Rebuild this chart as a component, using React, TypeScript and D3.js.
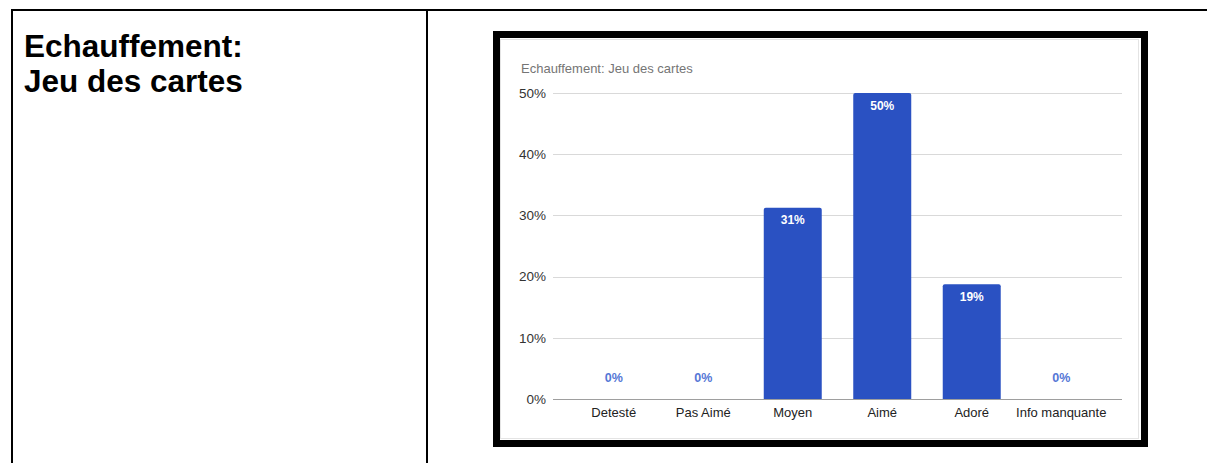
import React from "react";
import * as d3 from "d3";

const categories = ["Detesté", "Pas Aimé", "Moyen", "Aimé", "Adoré", "Info manquante"];
const values = [0, 0, 31.25, 50, 18.75, 0];
const valueLabels = ["0%", "0%", "31%", "50%", "19%", "0%"];
const yTicks = [0, 10, 20, 30, 40, 50];
const chartTitle = "Echauffement: Jeu des cartes";
const leftTitleLines = ["Echauffement:", "Jeu des cartes"];

const W = 1207;
const H = 463;
const BLUE = "#2a51c2";

export default function App() {
  const x = d3
    .scaleBand<string>()
    .domain(categories)
    .range([553, 1122])
    .paddingInner(0.352)
    .paddingOuter(0.355);
  const y = d3.scaleLinear().domain([0, 50]).range([399, 93]);
  const font = "Liberation Sans, Arial, Helvetica, sans-serif";

  return (
    <svg
      width={W}
      height={H}
      style={{ position: "absolute", left: 0, top: 0, background: "#fff" }}
      fontFamily={font}
    >
      {/* table borders */}
      <line x1={11} x2={W} y1={10} y2={10} stroke="#000" strokeWidth={2} />
      <line x1={12} x2={12} y1={9} y2={H} stroke="#000" strokeWidth={2} />
      <line x1={427} x2={427} y1={9} y2={H} stroke="#000" strokeWidth={2} />

      {/* left title */}
      {leftTitleLines.map((t, i) => (
        <text key={t} x={24} y={57 + i * 35} fontSize={31.5} fontWeight="bold" fill="#000">
          {t}
        </text>
      ))}

      {/* chart frame */}
      <rect x={496.5} y={34.5} width={648} height={409} fill="#fff" stroke="#000" strokeWidth={7} />
      <rect x={500.5} y={39.5} width={638} height={399} fill="none" stroke="#e4e4e4" strokeWidth={1} />

      <text x={521} y={73} fontSize={13} fill="#757575">
        {chartTitle}
      </text>

      {/* gridlines */}
      {yTicks.map((t) => (
        <g key={t}>
          <line
            x1={553}
            x2={1122}
            y1={Math.round(y(t)) + 0.5}
            y2={Math.round(y(t)) + 0.5}
            stroke={t === 0 ? "#9e9e9e" : "#d9d9d9"}
            strokeWidth={1}
          />
          <text
            x={546}
            y={y(t)}
            dy="0.35em"
            textAnchor="end"
            fontSize={13.5}
            fill="#333"
          >
            {t}%
          </text>
        </g>
      ))}

      {/* bars */}
      {categories.map((c, i) => {
        const bx = x(c) as number;
        const bw = x.bandwidth();
        const top = y(values[i]);
        const cx = bx + bw / 2;
        return (
          <g key={c}>
            {values[i] > 0 && (
              <path
                d={`M${bx},${y(0)} V${top + 2} Q${bx},${top} ${bx + 2},${top} H${bx + bw - 2} Q${bx + bw},${top} ${bx + bw},${top + 2} V${y(0)} Z`}
                fill={BLUE}
              />
            )}
            {values[i] > 0 ? (
              <text x={cx} y={top + 16.5} textAnchor="middle" fontSize={12} fontWeight="bold" fill="#fff">
                {valueLabels[i]}
              </text>
            ) : (
              <text x={cx} y={y(0) - 17} textAnchor="middle" fontSize={12.5} fontWeight="bold" fill="#5577d6">
                {valueLabels[i]}
              </text>
            )}
            <text x={cx} y={417} textAnchor="middle" fontSize={13} fill="#222">
              {c}
            </text>
          </g>
        );
      })}
    </svg>
  );
}
